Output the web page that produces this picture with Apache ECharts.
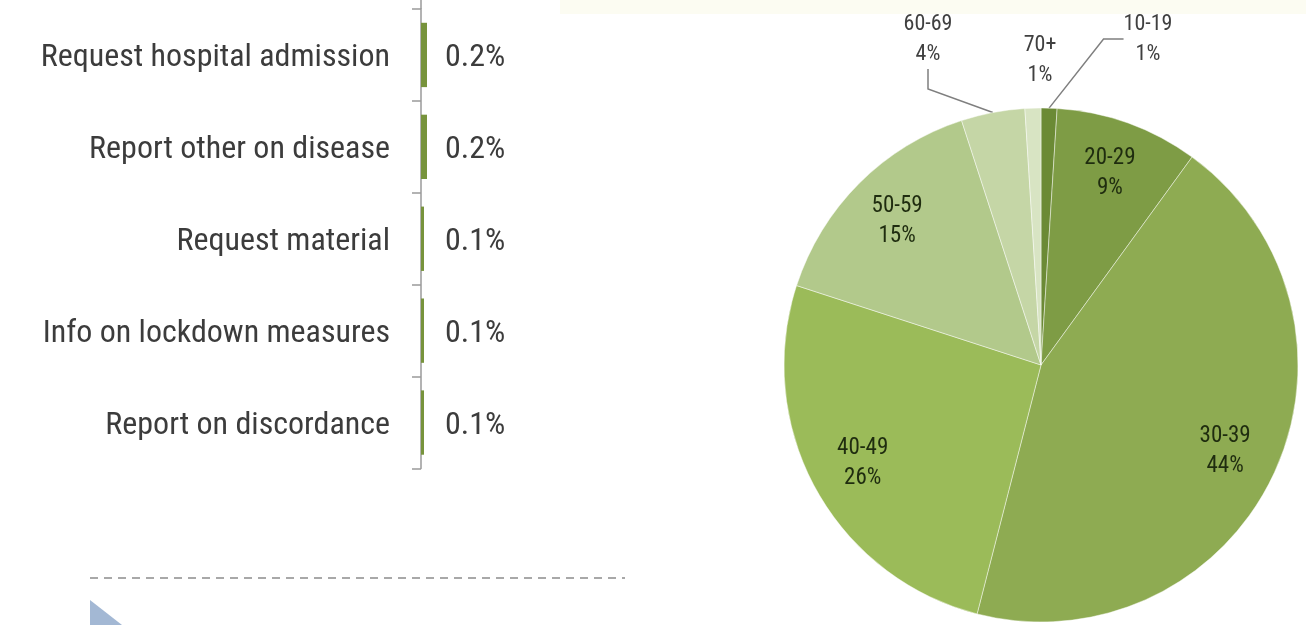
<!DOCTYPE html>
<html>
<head>
<meta charset="utf-8">
<script src="https://cdn.jsdelivr.net/npm/echarts@6/dist/echarts.min.js"></script>
<style>
  html, body { margin: 0; padding: 0; background: #fff; }
  #chart { width: 1306px; height: 625px; }
</style>
</head>
<body>
<div id="chart"></div>
<script>
// bar chart: reasons for calling
var categories = ['Request hospital admission', 'Report other on disease', 'Request material', 'Info on lockdown measures', 'Report on discordance'];
var shares = [0.2, 0.2, 0.1, 0.1, 0.1];

// pie chart: age groups
var ageGroups = ['10-19', '20-29', '30-39', '40-49', '50-59', '60-69', '70+'];
var agePct = [1, 9, 44, 26, 15, 4, 1];
var ageColors = ['#6b8a35', '#7e9c45', '#8eab52', '#9bbb59', '#b2c98b', '#c5d6a6', '#d8e4c3'];
var outside = ['10-19', '60-69', '70+'];
var withLine = ['10-19', '60-69'];

var font = "'Liberation Sans Narrow', 'Arial Narrow', 'Roboto Condensed', sans-serif";

var myChart = echarts.init(document.getElementById('chart'));

var pieData = ageGroups.map(function (g, i) {
    return {
        name: g,
        value: agePct[i],
        itemStyle: { color: ageColors[i] },
        labelLine: { show: withLine.indexOf(g) >= 0 }
    };
});

var option = {
    backgroundColor: '#ffffff',
    animation: false,
    grid: { left: 421, top: 9, width: 300, height: 459.5 },
    xAxis: { type: 'value', min: 0, max: 10, show: false },
    yAxis: {
        type: 'category',
        inverse: true,
        data: categories,
        axisLine: { show: true, lineStyle: { color: '#9a9a9a', width: 1.5 } },
        axisTick: { show: true, length: 9, lineStyle: { color: '#9a9a9a', width: 1.5 } },
        axisLabel: {
            color: '#3c3c3c', fontSize: 32, fontFamily: font, margin: 31,
            formatter: '{t|{value}}',
            rich: { t: { color: '#3c3c3c', fontSize: 32, fontFamily: font, padding: [6, 0, 0, 0] } }
        }
    },
    series: [
        {
            type: 'bar',
            data: shares,
            barWidth: '70%',
            itemStyle: { color: '#77933c' },
            label: {
                show: true,
                position: [24, '50%'],
                verticalAlign: 'middle',
                offset: [0, 3],
                formatter: '{c}%',
                color: '#3c3c3c',
                fontSize: 32,
                fontFamily: font
            }
        },
        {
            type: 'pie',
            center: [1041, 365],
            radius: 257,
            startAngle: 90,
            clockwise: true,
            data: pieData,
            itemStyle: { borderColor: 'rgba(255,255,255,0.45)', borderWidth: 1 },
            emphasis: { disabled: true },
            label: {
                show: true,
                formatter: function (p) {
                    return outside.indexOf(p.name) >= 0 ? p.name + '\n' + p.value + '%' : '';
                },
                color: '#404040',
                fontSize: 22,
                lineHeight: 30,
                fontFamily: font,
                align: 'center'
            },
            labelLine: { length: 20, length2: 20, lineStyle: { color: '#7f7f7f', width: 1.5 } },
            labelLayout: function (p) {
                var name = ageGroups[p.dataIndex];
                if (name === '10-19') return { x: 1148, y: 39, align: 'center', verticalAlign: 'middle' };
                if (name === '70+') return { x: 1040, y: 60, align: 'center', verticalAlign: 'middle' };
                if (name === '60-69') return { x: 928, y: 39, align: 'center', verticalAlign: 'middle' };
                return {};
            }
        },
        {
            // transparent ring only to place inner labels further out
            type: 'pie',
            center: [1041, 365],
            radius: [144, 257],
            startAngle: 90,
            clockwise: true,
            silent: true,
            data: pieData.map(function (d) { return { name: d.name, value: d.value }; }),
            itemStyle: { color: 'rgba(0,0,0,0)' },
            label: {
                show: true,
                position: 'inside',
                formatter: function (p) {
                    return outside.indexOf(p.name) >= 0 ? '' : p.name + '\n' + p.value + '%';
                },
                color: '#1f2c0f',
                fontSize: 23,
                lineHeight: 30,
                fontFamily: font
            },
            labelLine: { show: false }
        }
    ],
    graphic: [
        { type: 'rect', shape: { x: 560, y: 0, width: 746, height: 14 }, style: { fill: '#fcfcf2' }, z: -1 },
        { type: 'line', shape: { x1: 421, y1: 0, x2: 421, y2: 9 }, style: { stroke: '#9a9a9a', lineWidth: 1.5 } },
        { type: 'line', shape: { x1: 90, y1: 578, x2: 625, y2: 578 }, style: { stroke: '#a8a8a8', lineWidth: 2, lineDash: [8, 6] } },
        { type: 'polygon', shape: { points: [[90, 600], [90, 625], [122, 625]] }, style: { fill: '#a3b8d4' } }
    ]
};

myChart.setOption(option);
</script>
</body>
</html>
